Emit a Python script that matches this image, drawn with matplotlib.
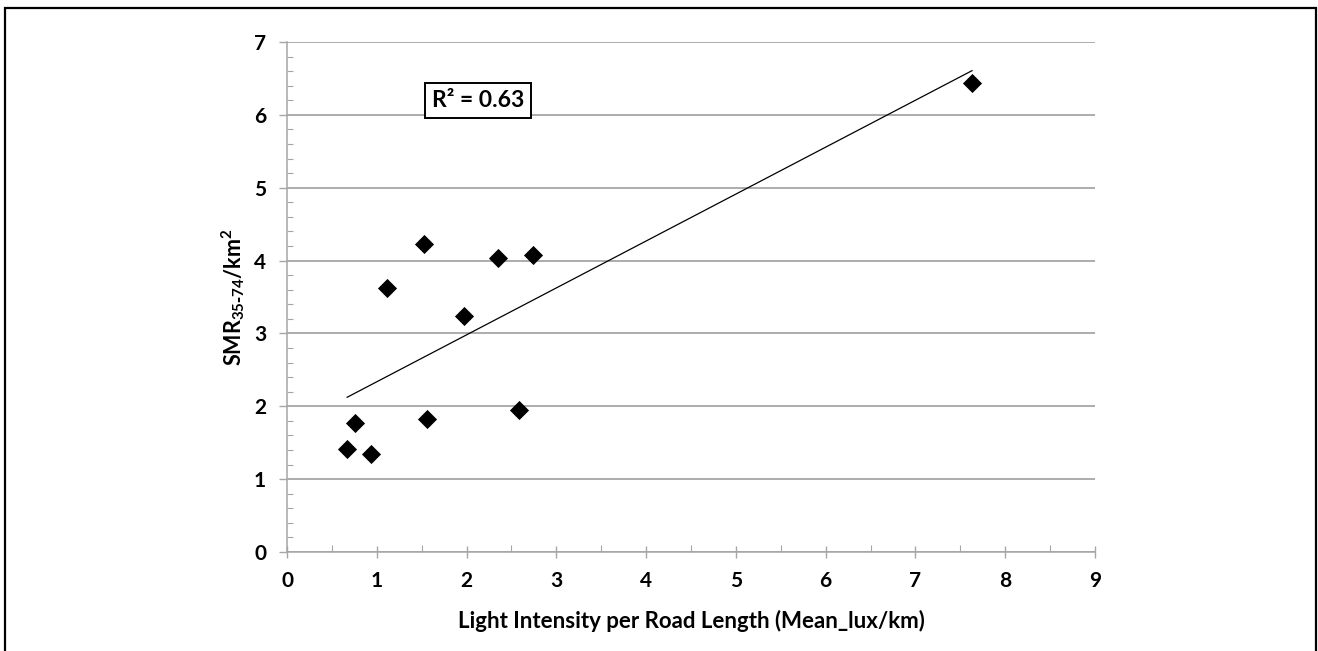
import matplotlib
matplotlib.use("Agg")
import matplotlib.pyplot as plt
from matplotlib.patches import Rectangle
from matplotlib.ticker import MultipleLocator
import numpy as np

# values
light = [0.67, 0.76, 0.94, 1.11, 1.53, 1.56, 1.97, 2.35, 2.58, 2.74, 7.63]
smr = [1.42, 1.77, 1.35, 3.63, 4.23, 1.83, 3.24, 4.04, 1.95, 4.07, 6.44]
r2_label = "R² = 0.63"
x_title = "Light Intensity per Road Length (Mean_lux/km)"
y_title = r"SMR$_{35\text{-}74}$/km$^{2}$"

plt.rcParams['font.family'] = ['Lato', 'DejaVu Sans']
plt.rcParams['font.weight'] = 'bold'
plt.rcParams['mathtext.default'] = 'regular'

grid_c = '#a6a6a6'

fig = plt.figure(figsize=(13.18, 6.51), dpi=100)
ax = fig.add_axes([287 / 1318, 1 - 552 / 651, (1095 - 287) / 1318, (552 - 42) / 651])

ax.scatter(light, smr, marker='D', s=95, color='black', zorder=3, linewidths=0)

# linear trend line across the data range
slope, intercept = np.polyfit(light, smr, 1)
xs = np.array([min(light), max(light)])
ax.plot(xs, slope * xs + intercept, color='black', lw=0.9, zorder=2)

ax.set_xlim(0, 9)
ax.set_ylim(0, 7)
ax.xaxis.set_major_locator(MultipleLocator(1))
ax.xaxis.set_minor_locator(MultipleLocator(0.5))
ax.yaxis.set_major_locator(MultipleLocator(1))
ax.yaxis.set_minor_locator(MultipleLocator(0.2))

ax.grid(axis='y', which='major', color=grid_c, lw=1.3)
ax.set_axisbelow(True)
for s in ['top', 'right']:
    ax.spines[s].set_visible(False)
for s in ['left', 'bottom']:
    ax.spines[s].set_color(grid_c)
    ax.spines[s].set_linewidth(1.1)

ax.tick_params(axis='y', which='major', direction='out', length=6, width=1, color=grid_c,
               labelsize=15, pad=9)
ax.tick_params(axis='y', which='minor', direction='in', length=4, width=0.8, color=grid_c)
ax.tick_params(axis='x', which='major', direction='inout', length=8, width=1, color=grid_c,
               labelsize=15, pad=10)
ax.tick_params(axis='x', which='minor', direction='in', length=5, width=0.8, color=grid_c)
for lab in ax.get_xticklabels() + ax.get_yticklabels():
    lab.set_fontweight('bold')

ax.set_xlabel(x_title, fontsize=16, fontweight='bold', labelpad=13)
ax.set_ylabel(y_title, fontsize=15.5, fontweight='bold', labelpad=5)

ax.text(2.13, 6.2, r2_label, fontsize=16.5, fontweight='bold', ha='center', va='center',
        bbox=dict(boxstyle='square,pad=0.3', fc='white', ec='black', lw=1.4))

fig.patches.append(Rectangle((5 / 1318, -0.02), (1316 - 5) / 1318, 1 - 8 / 651 + 0.02,
                             transform=fig.transFigure, fill=False, ec='black', lw=1.6))

fig.savefig('out.png', dpi=100)
